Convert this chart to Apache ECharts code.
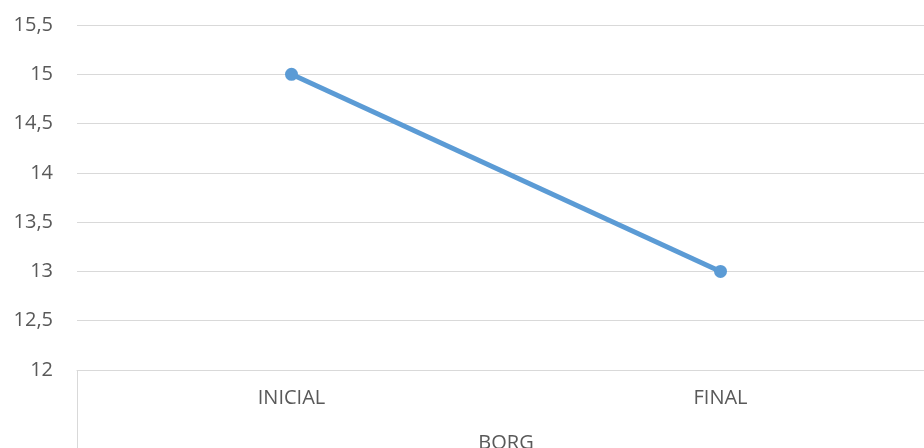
<!DOCTYPE html>
<html><head><meta charset="utf-8">
<script src="https://cdn.jsdelivr.net/npm/echarts@6/dist/echarts.min.js"></script>
<style>html,body{margin:0;padding:0;background:#fff}#c{width:924px;height:448px}</style>
</head><body><div id="c"></div>
<script>
const categories = ['INICIAL', 'FINAL'];
const borgValues = [15, 13];
const axisName = 'BORG';
const yMin = 12, yMax = 15.5, yStep = 0.5;

const chart = echarts.init(document.getElementById('c'), null, {renderer: 'canvas'});
const font = '"Open Sans", sans-serif';
chart.setOption({
  animation: false,
  backgroundColor: '#ffffff',
  grid: {left: 77, right: -11, top: 25, bottom: 78, containLabel: false, outerBoundsMode: 'none'},
  xAxis: {
    type: 'category',
    data: categories,
    boundaryGap: true,
    name: axisName,
    nameLocation: 'middle',
    nameGap: 63,
    nameTextStyle: {color: '#595959', fontSize: 20, fontFamily: font, verticalAlign: 'top'},
    axisLine: {show: true, lineStyle: {color: '#d9d9d9', width: 1}},
    axisTick: {show: true, length: 78, interval: function (i) { return i === 0; }, lineStyle: {color: '#d9d9d9', width: 1}},
    axisLabel: {color: '#595959', fontSize: 20, fontFamily: font, margin: 18}
  },
  yAxis: {
    type: 'value',
    min: yMin, max: yMax, interval: yStep,
    axisLine: {show: false},
    axisTick: {show: false},
    splitLine: {lineStyle: {color: '#d9d9d9', width: 1}},
    axisLabel: {color: '#595959', fontSize: 20, fontFamily: font, margin: 24,
      formatter: v => String(v).replace('.', ',')}
  },
  series: [{
    type: 'line',
    data: borgValues,
    symbol: 'circle',
    symbolSize: 13,
    lineStyle: {color: '#5b9bd5', width: 5},
    itemStyle: {color: '#5b9bd5'}
  }]
});
</script></body></html>
